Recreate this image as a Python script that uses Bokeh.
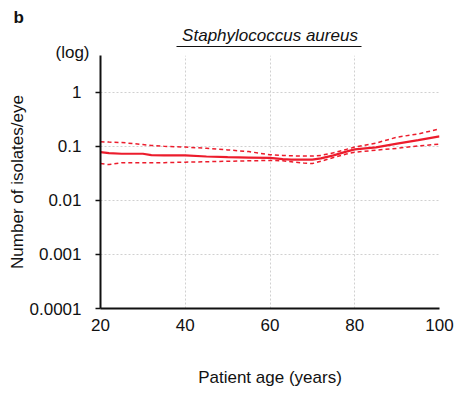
from bokeh.plotting import figure
from bokeh.models import Title, FixedTicker, CustomJSTickFormatter, Range1d, LinearAxis
from bokeh.embed import file_html
from bokeh.resources import INLINE

# Data
age = [20, 22, 25, 28, 30, 32, 35, 40, 45, 50, 55, 60, 63, 65, 68, 70, 72, 75, 78, 80, 85, 90, 95, 100]
mean = [0.078, 0.075, 0.073, 0.073, 0.073, 0.069, 0.068, 0.068, 0.065, 0.063, 0.062, 0.061, 0.058,
        0.057, 0.057, 0.057, 0.060, 0.068, 0.080, 0.088, 0.096, 0.112, 0.130, 0.153]
upper = [0.122, 0.120, 0.118, 0.112, 0.108, 0.104, 0.100, 0.097, 0.092, 0.086, 0.080, 0.070, 0.068,
         0.067, 0.066, 0.066, 0.068, 0.076, 0.088, 0.097, 0.115, 0.148, 0.170, 0.210]
lower = [0.048, 0.046, 0.050, 0.050, 0.050, 0.050, 0.050, 0.051, 0.052, 0.053, 0.054, 0.055, 0.054,
         0.052, 0.049, 0.048, 0.053, 0.062, 0.072, 0.078, 0.085, 0.092, 0.102, 0.110]
x_ticks = [20, 40, 60, 80, 100]
y_ticks = [0.0001, 0.001, 0.01, 0.1, 1]

W, H = 459, 394
font = "Liberation Sans"
ink = "#111111"

p = figure(width=W, height=H, y_axis_type="log", output_backend="svg", toolbar_location=None,
           x_range=Range1d(20, 100), y_range=Range1d(0.0001, 4.8),
           min_border_left=100, min_border_right=20, min_border_top=55, min_border_bottom=86)
p.outline_line_color = None
p.title.visible = False

red = "#ec1c2c"
p.line(age, upper, line_color=red, line_width=1.5, line_dash="4 3")
p.line(age, lower, line_color=red, line_width=1.5, line_dash="4 3")
p.line(age, mean, line_color=red, line_width=2.2)

p.xaxis.ticker = FixedTicker(ticks=x_ticks)
p.yaxis.ticker = FixedTicker(ticks=y_ticks)
p.yaxis.formatter = CustomJSTickFormatter(code="return tick >= 1 ? tick.toFixed(0) : tick.toPrecision(1);")
for ax in (p.xaxis, p.yaxis):
    ax.axis_line_color = ink
    ax.axis_line_width = 2
    ax.major_label_text_font = font
    ax.major_label_text_font_size = "17px"
    ax.major_label_text_color = ink
    ax.minor_tick_line_color = None
    ax.axis_label_text_font = font
    ax.axis_label_text_font_size = "17px"
    ax.axis_label_text_font_style = "normal"
    ax.axis_label_text_color = ink
p.xaxis.major_tick_line_color = None
p.xaxis.major_tick_out = 0
p.xaxis.major_tick_in = 0
p.xaxis.major_label_standoff = 10
p.xaxis.axis_label = "Patient age (years)"
p.xaxis.axis_label_standoff = 34
p.yaxis.major_tick_in = 0
p.yaxis.major_tick_out = 5
p.yaxis.major_tick_line_color = ink
p.yaxis.major_tick_line_width = 1.5
p.yaxis.major_label_standoff = 14
p.yaxis.axis_label = "Number of isolates/eye"
p.yaxis.axis_label_standoff = 0

p.xgrid.ticker = FixedTicker(ticks=[40, 60, 80, 100])
p.ygrid.ticker = FixedTicker(ticks=[0.001, 0.01, 0.1, 1])
for g in (p.xgrid, p.ygrid):
    g.grid_line_color = "#d0d0d0"
    g.grid_line_dash = "2 2"
    g.grid_line_width = 1

# Above panel: "(log)", underlined title (axis line + axis label), panel letter "b"
p.add_layout(Title(text="(log)", align="left", offset=-45, text_font=font, text_font_size="17px",
                   text_font_style="normal", text_color=ink, standoff=-12), "above")
under = LinearAxis(ticker=FixedTicker(ticks=[]), bounds=(37.9, 81.6), axis_line_color=ink,
                   axis_line_width=1, major_tick_line_color=None, minor_tick_line_color=None,
                   major_tick_out=10, major_tick_in=0,
                   axis_label="Staphylococcus aureus", axis_label_text_font=font,
                   axis_label_text_font_size="17px", axis_label_text_font_style="italic",
                   axis_label_text_color=ink, axis_label_standoff=2)
p.add_layout(under, "above")
p.add_layout(Title(text="b", align="left", offset=-87, text_font=font, text_font_size="17px",
                   text_font_style="bold", text_color=ink, standoff=-8), "above")

out = open("out.html", "w")
out.write(file_html(p, INLINE))
out.close()
